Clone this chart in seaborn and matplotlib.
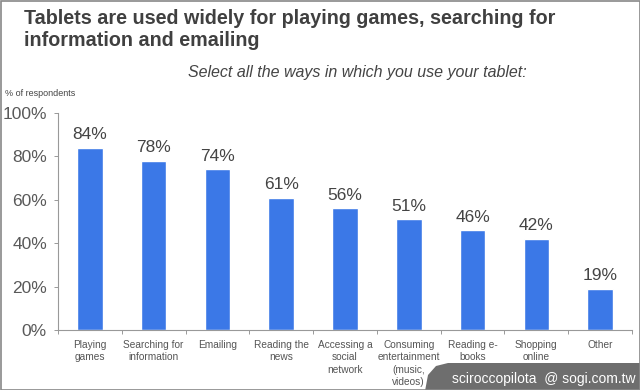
import matplotlib
matplotlib.use("Agg")
import matplotlib.pyplot as plt
import seaborn as sns
import pandas as pd
import numpy as np
from matplotlib.patches import Polygon, Rectangle

categories = ["Playing\ngames", "Searching for\ninformation", "Emailing", "Reading the\nnews",
              "Accessing a\nsocial\nnetwork", "Consuming\nentertainment\n(music,\nvideos)",
              "Reading e-\nbooks", "Shopping\nonline", "Other"]
values = [84, 78, 74, 61, 56, 51, 46, 42, 19]
ytick_vals = [0, 20, 40, 60, 80, 100]
ytick_labels = ["0%", "20%", "40%", "60%", "80%", "100%"]

sns.set_theme(style="white")
plt.rcParams['font.family'] = ['Liberation Sans', 'DejaVu Sans']

df = pd.DataFrame({"cat": categories, "val": values})

W, H = 640, 390
fig = plt.figure(figsize=(6.4, 3.9), dpi=100)
ax = fig.add_axes([58/W, 60/H, 574/W, 217/H])
sns.barplot(data=df, x="cat", y="val", color="#3B78E7", width=0.4, ax=ax, saturation=1)

ax.set_ylim(0, 100)
ax.set_xlim(-0.5, len(categories) - 0.5)
ax.set_yticks(ytick_vals)
ax.set_yticklabels(ytick_labels, fontsize=12.5, color="#595959")
ax.set_xlabel("")
ax.set_ylabel("")
ax.tick_params(axis="x", which="major", length=0, labelsize=7.3, labelcolor="#555555", pad=7)
ax.set_xticks(np.arange(-0.5, len(categories), 1), minor=True)
ax.tick_params(axis="x", which="minor", length=3, color="#999999", width=0.7, direction="out", bottom=True)
ax.tick_params(axis="y", length=3, color="#999999", width=0.7, direction="out", left=True, pad=5)
for s in ["top", "right"]:
    ax.spines[s].set_visible(False)
for s in ["left", "bottom"]:
    ax.spines[s].set_color("#999999")
    ax.spines[s].set_linewidth(0.8)

for lab in ax.get_xticklabels():
    lab.set_verticalalignment("top")
    lab.set_linespacing(1.32)

for i, v in enumerate(values):
    ax.annotate(f"{v}%", (i, v), xytext=(0, 4), textcoords="offset points",
                ha="center", va="bottom", fontsize=12.5, color="#444444")

fig.text(24/W, 1 - 9/H, "Tablets are used widely for playing games, searching for\ninformation and emailing",
         ha="left", va="top", fontsize=14.2, fontweight="bold", color="#404040", linespacing=1.2)
fig.text(357/W, 1 - 73/H, "Select all the ways in which you use your tablet:",
         ha="center", va="center", fontsize=11.5, style="italic", color="#444444")
fig.text(5/W, 1 - 93/H, "% of respondents", ha="left", va="center", fontsize=6.5, color="#444444")

# watermark
pts = [(425, 391), (428, 375), (436, 366), (448, 363), (641, 363), (641, 391)]
wm = Polygon([(x / W, 1 - y / H) for x, y in pts], closed=True, transform=fig.transFigure,
             facecolor="#6e6e6e", edgecolor="none", zorder=5)
fig.patches.append(wm)
fig.text(636/W, 1 - 379/H, "sciroccopilota  @ sogi.com.tw", ha="right", va="center",
         fontsize=10, color="white", zorder=6)

# border
fig.patches.append(Rectangle((0.5/W, 0.5/H), 1 - 1/W, 1 - 1/H, transform=fig.transFigure,
                             fill=False, edgecolor="#888888", linewidth=1.2, zorder=10))

fig.savefig("out.png", dpi=100)
